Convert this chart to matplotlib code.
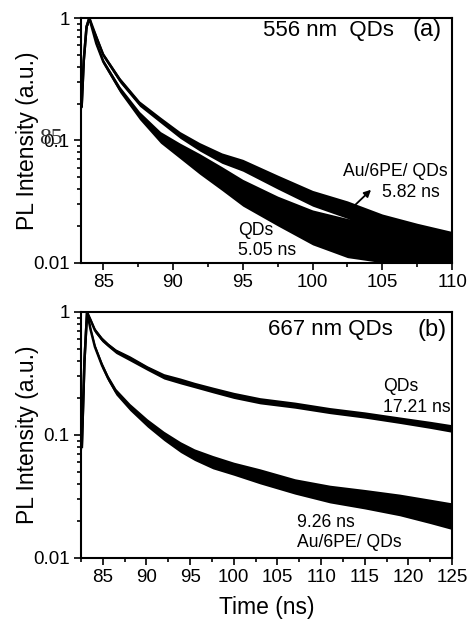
import numpy as np
import matplotlib
matplotlib.use('Agg')
import matplotlib.pyplot as plt
from matplotlib.ticker import MultipleLocator, LogLocator, FixedFormatter, FixedLocator

plt.rcParams['font.family'] = ['Liberation Sans', 'DejaVu Sans']

# panel (a): 556 nm QDs
t_a = [83.45, 83.6, 83.8, 84.0, 84.5, 85.0, 86.2, 87.6, 89.1, 90.5, 91.9, 93.5, 95.0, 97.5, 100.0, 102.5, 105.0, 107.5, 110.0]
au_a = [0.19, 0.45, 0.85, 1.0, 0.70, 0.50, 0.31, 0.20, 0.147, 0.111, 0.089, 0.072, 0.063, 0.046, 0.034, 0.028, 0.021, 0.018, 0.015]
au_a_hi = [0.2, 0.47, 0.88, 1.0, 0.73, 0.52, 0.325, 0.21, 0.155, 0.118, 0.096, 0.079, 0.070, 0.052, 0.039, 0.032, 0.025, 0.021, 0.018]
au_a_lo = [0.18, 0.43, 0.82, 0.96, 0.67, 0.48, 0.295, 0.19, 0.139, 0.104, 0.082, 0.065, 0.056, 0.040, 0.029, 0.023, 0.017, 0.015, 0.012]
qd_a = [0.19, 0.45, 0.85, 1.0, 0.62, 0.44, 0.26, 0.16, 0.107, 0.083, 0.066, 0.050, 0.038, 0.027, 0.020, 0.017, 0.0145, 0.013, 0.012]
qd_a_hi = [0.2, 0.47, 0.88, 1.0, 0.65, 0.46, 0.275, 0.172, 0.118, 0.095, 0.078, 0.061, 0.048, 0.035, 0.027, 0.023, 0.020, 0.018, 0.017]
qd_a_lo = [0.18, 0.43, 0.82, 0.96, 0.59, 0.42, 0.245, 0.148, 0.095, 0.071, 0.053, 0.039, 0.029, 0.020, 0.014, 0.011, 0.010, 0.010, 0.010]

# panel (b): 667 nm QDs
t_b = [82.6, 82.9, 83.2, 83.6, 84.1, 84.9, 85.6, 86.5, 88.1, 90.1, 92.0, 93.9, 95.5, 97.6, 100.0, 103.0, 107.0, 111.0, 115.0, 119.0, 122.5, 125.0]
qd_b = [0.08, 0.40, 1.0, 0.86, 0.71, 0.60, 0.54, 0.48, 0.42, 0.35, 0.30, 0.275, 0.255, 0.232, 0.21, 0.19, 0.175, 0.158, 0.145, 0.132, 0.121, 0.113]
qd_b_hi = [0.085, 0.42, 1.0, 0.89, 0.74, 0.625, 0.56, 0.50, 0.44, 0.365, 0.315, 0.29, 0.268, 0.245, 0.222, 0.201, 0.185, 0.167, 0.154, 0.140, 0.129, 0.121]
qd_b_lo = [0.075, 0.38, 0.96, 0.83, 0.68, 0.575, 0.52, 0.46, 0.40, 0.335, 0.285, 0.26, 0.242, 0.22, 0.198, 0.179, 0.165, 0.149, 0.137, 0.124, 0.113, 0.105]
au_b = [0.08, 0.40, 1.0, 0.72, 0.52, 0.37, 0.29, 0.225, 0.169, 0.125, 0.098, 0.080, 0.069, 0.060, 0.053, 0.046, 0.038, 0.033, 0.030, 0.027, 0.024, 0.022]
au_b_hi = [0.085, 0.42, 1.0, 0.75, 0.545, 0.39, 0.305, 0.238, 0.18, 0.135, 0.107, 0.088, 0.077, 0.068, 0.060, 0.053, 0.044, 0.039, 0.036, 0.033, 0.030, 0.028]
au_b_lo = [0.075, 0.38, 0.96, 0.69, 0.495, 0.35, 0.275, 0.212, 0.158, 0.116, 0.090, 0.072, 0.062, 0.053, 0.047, 0.040, 0.033, 0.028, 0.025, 0.022, 0.019, 0.017]

fig = plt.figure(figsize=(4.68, 6.24), dpi=100)
ax1 = fig.add_axes([0.173, 0.579, 0.793, 0.392])
ax2 = fig.add_axes([0.173, 0.106, 0.793, 0.394])

def style(ax, xlim, major_x):
    ax.set_yscale('log')
    ax.set_ylim(0.01, 1)
    ax.set_xlim(*xlim)
    ax.xaxis.set_major_locator(MultipleLocator(major_x))
    ax.xaxis.set_minor_locator(MultipleLocator(major_x / 2))
    ax.yaxis.set_major_locator(FixedLocator([0.01, 0.1, 1]))
    ax.yaxis.set_major_formatter(FixedFormatter(['0.01', '0.1', '1']))
    ax.yaxis.set_minor_locator(LogLocator(base=10, subs=np.arange(2, 10)))
    ax.yaxis.set_minor_formatter(plt.NullFormatter())
    ax.tick_params(which='both', direction='out', top=False, right=False, labelsize=13.5, width=1.2)
    ax.tick_params(which='major', length=5, pad=3)
    ax.tick_params(which='minor', length=3)
    for s in ax.spines.values():
        s.set_linewidth(1.5)
    ax.set_ylabel('PL Intensity (a.u.)', fontsize=16.5, va='center')
    ax.yaxis.set_label_coords(-0.145, 0.5)

for ax, t, curves in [(ax1, t_a, [(au_a, au_a_lo, au_a_hi), (qd_a, qd_a_lo, qd_a_hi)]),
                      (ax2, t_b, [(qd_b, qd_b_lo, qd_b_hi), (au_b, au_b_lo, au_b_hi)])]:
    for c, lo, hi in curves:
        ax.fill_between(t, lo, hi, color='black', lw=0)
        ax.plot(t, c, color='black', lw=1.8)

style(ax1, (83.4, 110), 5)
style(ax2, (82.5, 125), 5)
ax2.set_xlabel('Time (ns)', fontsize=16.5, labelpad=7)

# labels panel (a)
ax1.text(0.666, 0.951, '556 nm  QDs', transform=ax1.transAxes, ha='center', va='center', fontsize=16)
ax1.text(0.933, 0.951, '(a)', transform=ax1.transAxes, ha='center', va='center', fontsize=17)
ax1.text(0.989, 0.371, 'Au/6PE/ QDs', transform=ax1.transAxes, ha='right', va='center', fontsize=12.7)
ax1.text(0.811, 0.286, '5.82 ns', transform=ax1.transAxes, ha='left', va='center', fontsize=12.7)
ax1.text(0.423, 0.131, 'QDs', transform=ax1.transAxes, ha='left', va='center', fontsize=12.7)
ax1.text(0.423, 0.049, '5.05 ns', transform=ax1.transAxes, ha='left', va='center', fontsize=12.7)
ax1.annotate('', xy=(0.787, 0.306), xytext=(0.725, 0.216), xycoords='axes fraction',
             arrowprops=dict(arrowstyle='-|>', color='black', lw=1.3, mutation_scale=10))

# labels panel (b)
ax2.text(0.671, 0.927, '667 nm QDs', transform=ax2.transAxes, ha='center', va='center', fontsize=16)
ax2.text(0.946, 0.927, '(b)', transform=ax2.transAxes, ha='center', va='center', fontsize=17)
ax2.text(0.814, 0.695, 'QDs', transform=ax2.transAxes, ha='left', va='center', fontsize=12.7)
ax2.text(0.814, 0.610, '17.21 ns', transform=ax2.transAxes, ha='left', va='center', fontsize=12.7)
ax2.text(0.582, 0.142, '9.26 ns', transform=ax2.transAxes, ha='left', va='center', fontsize=12.7)
ax2.text(0.582, 0.061, 'Au/6PE/ QDs', transform=ax2.transAxes, ha='left', va='center', fontsize=12.7)

# stray scan mark near the y label
fig.text(51 / 468, 1 - 138 / 624, '85', ha='center', va='center', fontsize=17,
         family='Liberation Serif', color='#333333')

fig.savefig('out.png', dpi=100)
